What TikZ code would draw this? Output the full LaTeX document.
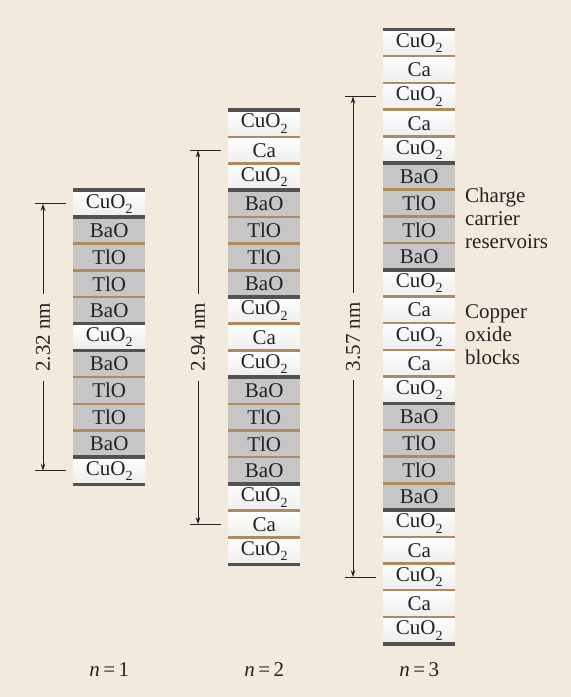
\documentclass[tikz,border=0pt]{standalone}
\usepackage{fontspec}
\setmainfont{Liberation Serif}
\usetikzlibrary{calc, positioning, arrows.meta}
\definecolor{beige}{RGB}{243,234,222}
\definecolor{sepbrown}{RGB}{176,138,92}
\definecolor{sepdark}{RGB}{82,82,82}
\definecolor{cellgray}{RGB}{198,198,198}
\definecolor{ink}{RGB}{34,34,34}
\newcommand{\cuo}{CuO\raisebox{-.25em}{\fontsize{14}{14}\selectfont 2}}

\begin{document}
\begin{tikzpicture}[x=1pt, y=-1pt, font=\fontsize{21}{23}\selectfont, text=ink,
    cell/.style={minimum width=72pt, minimum height=26.7pt, inner sep=0pt},
    cellw/.style={cell, top color=white, bottom color=black!7},
    cellg/.style={cell, fill=cellgray},
    sepd/.style={sepdark, line width=3.5pt},
    sepb/.style={sepbrown, line width=2.5pt},
    dimlabel/.style={rotate=90, inner xsep=9pt, inner ysep=0pt},
    dimline/.style={ink, line width=0.8pt, -{Stealth[length=7pt,width=4.5pt]}},
    tickline/.style={ink, line width=0.8pt}]

  % background
  \fill[beige] (0,0) rectangle (571,697);

  % n = 1
  \foreach \t/\s/\lab [count=\i] in {w/d/\cuo, g/d/BaO, g/b/TlO, g/b/TlO, g/b/BaO,
      w/d/\cuo, g/d/BaO, g/b/TlO, g/b/TlO, g/b/BaO, w/d/\cuo}
    {\node[cell\t] (s1-\i) at (109.2, 190.4+26.7*\i-13.35) {\lab};
     \draw[sep\s] (s1-\i.north west) -- (s1-\i.north east);}
  \draw[sepd] (s1-11.south west) -- (s1-11.south east);

  % n = 2
  \foreach \t/\s/\lab [count=\i] in {w/d/\cuo, w/b/Ca, w/b/\cuo, g/d/BaO, g/b/TlO,
      g/b/TlO, g/b/BaO, w/d/\cuo, w/b/Ca, w/b/\cuo, g/d/BaO, g/b/TlO, g/b/TlO,
      g/b/BaO, w/d/\cuo, w/b/Ca, w/b/\cuo}
    {\node[cell\t] (s2-\i) at (264.2, 110.3+26.7*\i-13.35) {\lab};
     \draw[sep\s] (s2-\i.north west) -- (s2-\i.north east);}
  \draw[sepd] (s2-17.south west) -- (s2-17.south east);

  % n = 3
  \foreach \t/\s/\lab [count=\i] in {w/d/\cuo, w/b/Ca, w/b/\cuo, w/b/Ca, w/b/\cuo,
      g/d/BaO, g/b/TlO, g/b/TlO, g/b/BaO, w/d/\cuo, w/b/Ca, w/b/\cuo, w/b/Ca,
      w/b/\cuo, g/d/BaO, g/b/TlO, g/b/TlO, g/b/BaO, w/d/\cuo, w/b/Ca, w/b/\cuo,
      w/b/Ca, w/b/\cuo}
    {\node[cell\t] (s3-\i) at (419.2, 29.7+26.7*\i-13.35) {\lab};
     \draw[sep\s] (s3-\i.north west) -- (s3-\i.north east);}
  \draw[sepd] (s3-23.south west) -- (s3-23.south east);

  % repeat distances
  \foreach \k/\a/\b/\d in {1/1/11/2.32, 2/2/16/2.94, 3/3/21/3.57}
    {\coordinate (d\k a) at ([xshift=-30pt]s\k-\a.west);
     \coordinate (d\k b) at ([xshift=-30pt]s\k-\b.west);
     \draw[tickline] ([xshift=-8pt]d\k a) -- ([xshift=23pt]d\k a);
     \draw[tickline] ([xshift=-8pt]d\k b) -- ([xshift=23pt]d\k b);
     \node[dimlabel] (d\k) at ($(d\k a)!0.5!(d\k b)$) {\d\ nm};
     \draw[dimline] (d\k) -- (d\k a);
     \draw[dimline] (d\k) -- (d\k b);}

  % n labels
  \node (n1) at (109.2, 670) {\textit{n}\,=\,1};
  \node (n2) at (264.2, 670) {\textit{n}\,=\,2};
  \node (n3) at (419.2, 670) {\textit{n}\,=\,3};

  % block names
  \node[anchor=west, align=left, inner sep=0pt] (res) at (465, 218) {Charge\\carrier\\reservoirs};
  \node[anchor=west, align=left, inner sep=0pt] (blk) at (465, 335) {Copper\\oxide\\blocks};
\end{tikzpicture}
\end{document}
